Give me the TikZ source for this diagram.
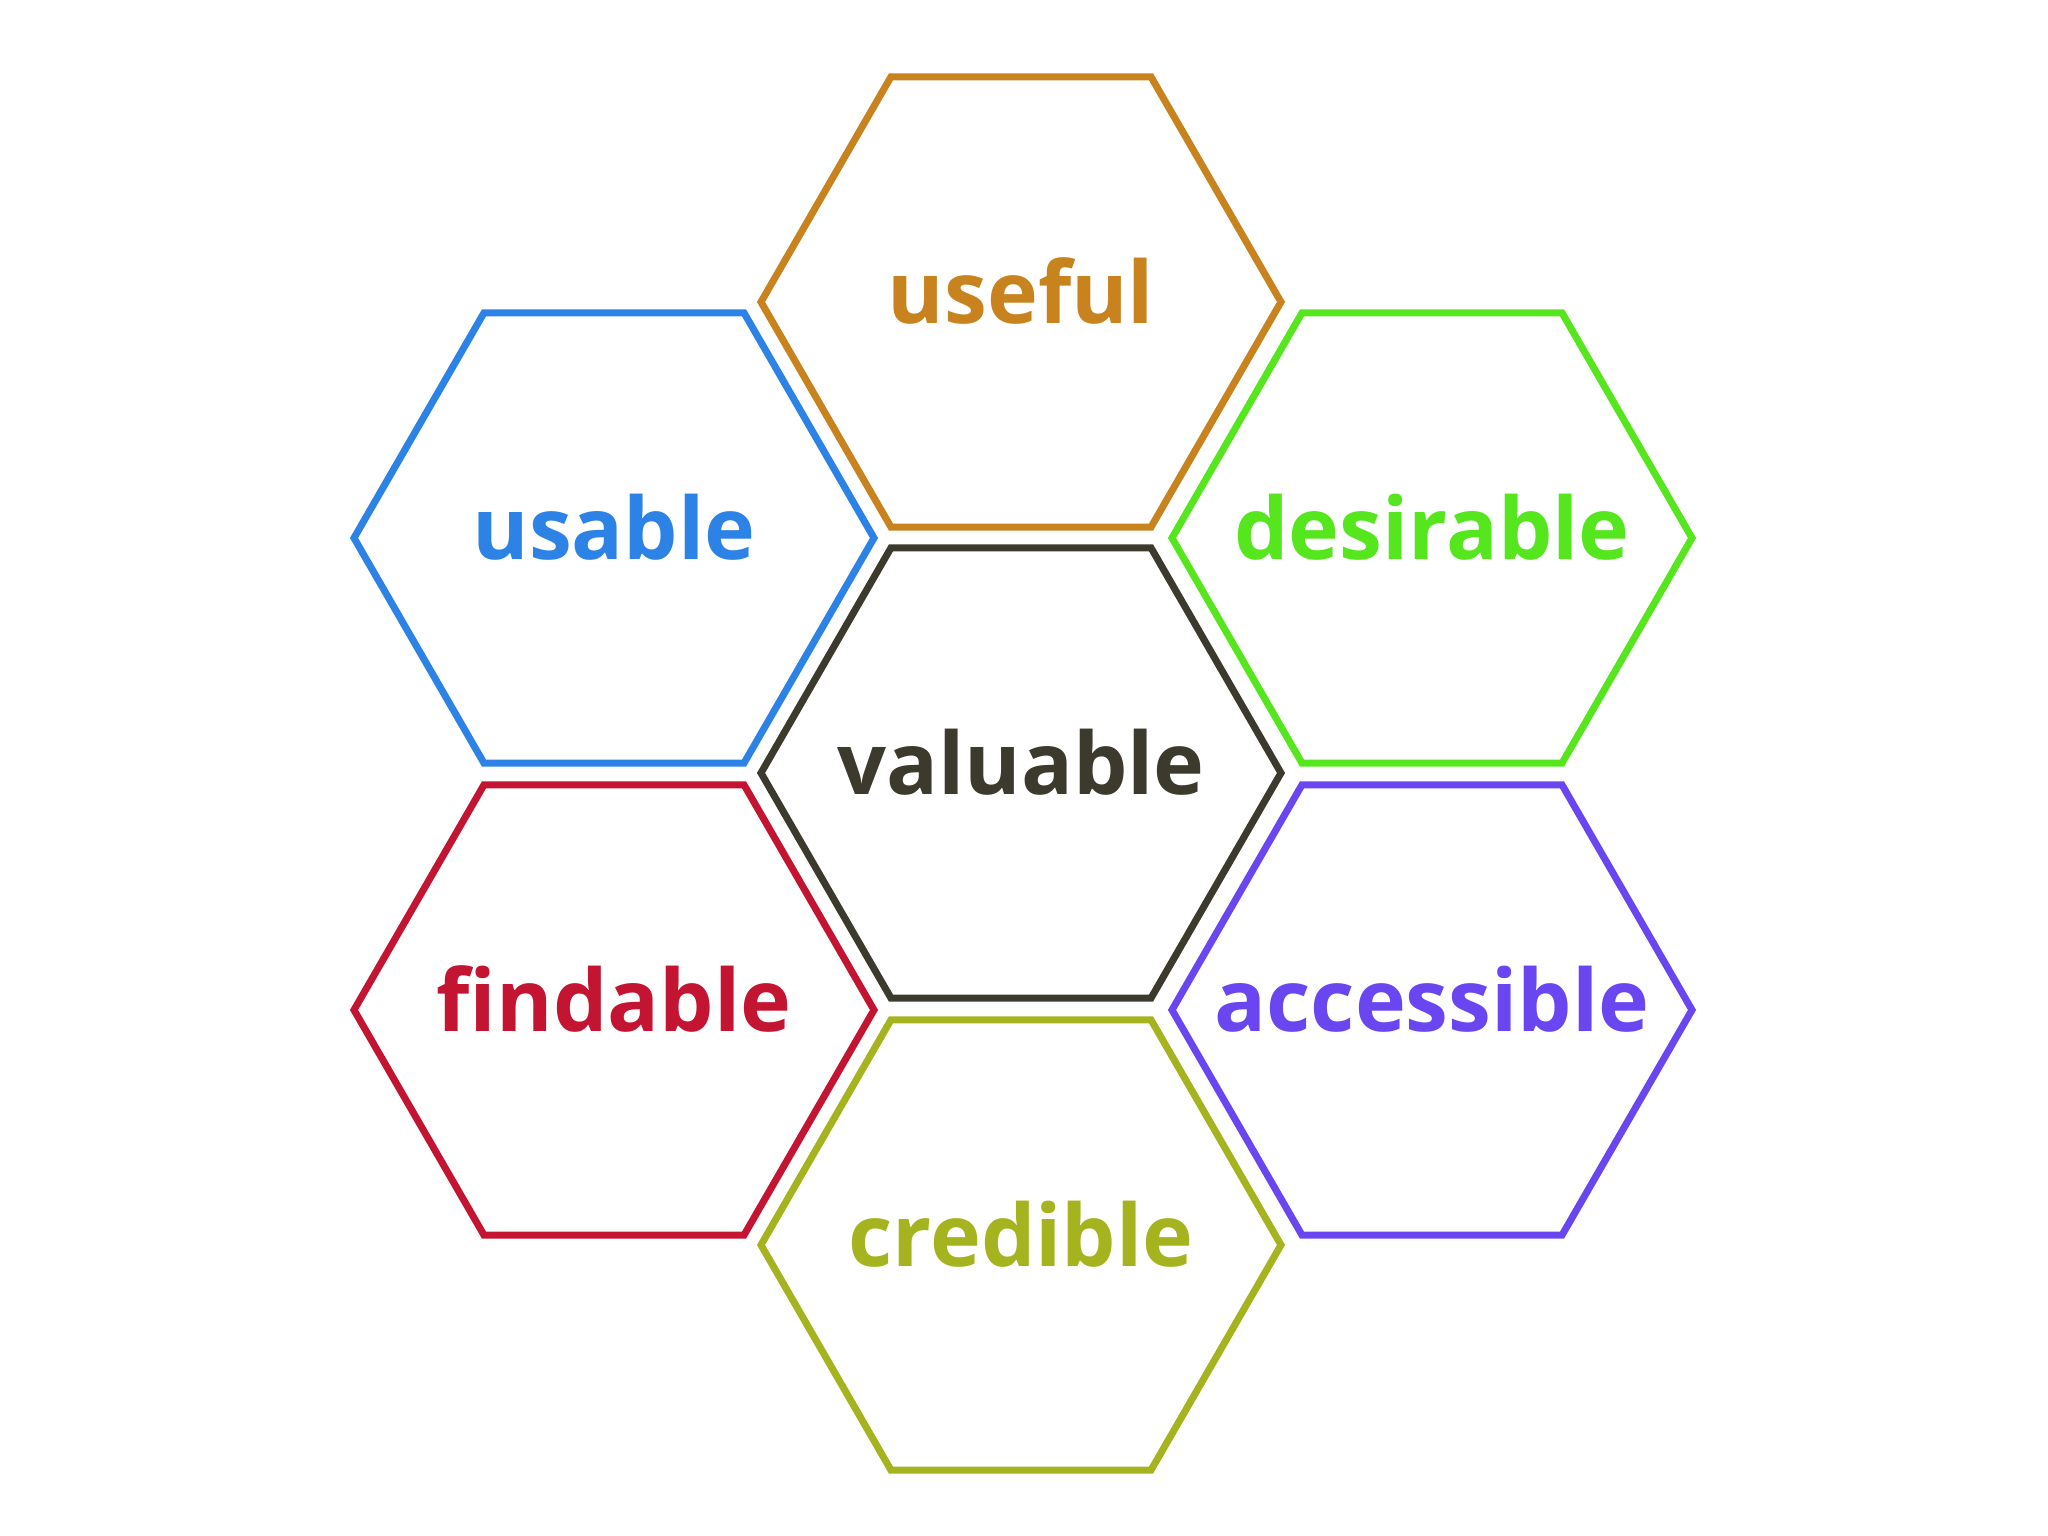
\documentclass[tikz,border=0pt]{standalone}
\usepackage{fontspec}
\setmainfont{Open Sans}
\usetikzlibrary{shapes.geometric}

\definecolor{usefulcol}{RGB}{200,130,30}
\definecolor{usablecol}{RGB}{45,130,230}
\definecolor{desirecol}{RGB}{85,230,30}
\definecolor{valuecol}{RGB}{60,58,45}
\definecolor{findcol}{RGB}{195,20,50}
\definecolor{accesscol}{RGB}{105,70,240}
\definecolor{credcol}{RGB}{165,180,30}

\tikzset{
  hexa/.style={regular polygon, regular polygon sides=6, minimum size=5.2cm,
    inner sep=0pt, outer sep=0pt, line width=2pt, draw=#1},
  word/.style={anchor=base, yshift=-0.22cm, text=#1,
    font=\fontsize{24.5}{28}\selectfont\bfseries}
}

\begin{document}
\begin{tikzpicture}
\useasboundingbox (0,0) rectangle (20.48,15.36);
% draw centre
\node[hexa=valuecol] (valuable) at (10.21,7.63) {};
\node[word=valuecol] (valuabletxt) at (valuable.center) {valuable};
% draw top
\node[hexa=usefulcol] (useful) at (10.21,12.34) {};
\node[word=usefulcol] (usefultxt) at (useful.center) {useful};
% draw upper left
\node[hexa=usablecol] (usable) at (6.14,9.98) {};
\node[word=usablecol] (usabletxt) at (usable.center) {usable};
% draw upper right
\node[hexa=desirecol] (desirable) at (14.32,9.98) {};
\node[word=desirecol] (desirabletxt) at (desirable.center) {desirable};
% draw lower left
\node[hexa=findcol] (findable) at (6.14,5.26) {};
\node[word=findcol] (findabletxt) at (findable.center) {findable};
% draw lower right
\node[hexa=accesscol] (accessible) at (14.32,5.26) {};
\node[word=accesscol] (accessibletxt) at (accessible.center) {accessible};
% draw bottom
\node[hexa=credcol] (credible) at (10.21,2.91) {};
\node[word=credcol] (credibletxt) at (credible.center) {credible};
\end{tikzpicture}
\end{document}
